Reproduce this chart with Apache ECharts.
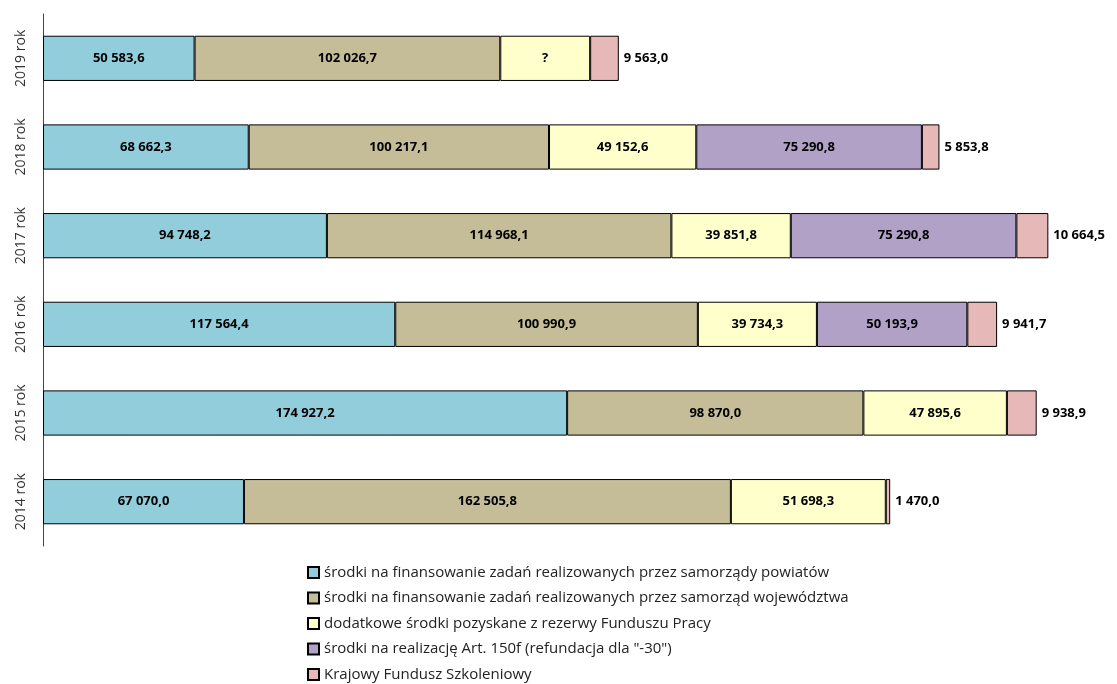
<!DOCTYPE html>
<html>
<head>
<meta charset="utf-8">
<script src="https://cdn.jsdelivr.net/npm/echarts@6/dist/echarts.min.js"></script>
<style>
  html, body { margin: 0; padding: 0; background: #fff; }
  #chart { width: 1117px; height: 684px; }
</style>
</head>
<body>
<div id="chart"></div>
<script>
// kategorie od dołu do góry
var years = ['2014 rok', '2015 rok', '2016 rok', '2017 rok', '2018 rok', '2019 rok'];

var powiaty = [67070.0, 174927.2, 117564.4, 94748.2, 68662.3, 50583.6];
var wojewodztwa = [162505.8, 98870.0, 100990.9, 114968.1, 100217.1, 102026.7];
// 2019: wartość nieznana na wykresie ("?"), szerokość
var rezerwa = [51698.3, 47895.6, 39734.3, 39851.8, 49152.6, 30000];
var rezerwaLabels = [null, null, null, null, null, '?'];
var art150f = [null, null, 50193.9, 75290.8, 75290.8, null];
var kfs = [1470.0, 9938.9, 9941.7, 10664.5, 5853.8, 9563.0];

var names = [
  'środki na finansowanie zadań realizowanych przez samorządy powiatów',
  'środki na finansowanie zadań realizowanych przez samorząd województwa',
  'dodatkowe środki pozyskane z rezerwy Funduszu Pracy',
  'środki na realizację Art. 150f (refundacja dla "-30")',
  'Krajowy Fundusz Szkoleniowy'
];
var colors = ['#92CDDC', '#C4BD97', '#FFFFCC', '#B2A1C7', '#E6B9B8'];

function fmt(v) {
  var s = v.toFixed(1).split('.');
  return s[0].replace(/\B(?=(\d{3})+(?!\d))/g, ' ') + ',' + s[1];
}

function makeSeries(i, data, overrides, pos) {
  return {
    name: names[i],
    type: 'bar',
    stack: 'total',
    barWidth: '51%',
    data: data,
    itemStyle: { color: colors[i], borderColor: '#000', borderWidth: 1 },
    label: {
      show: true,
      position: pos || 'inside',
      distance: 5,
      color: '#000',
      fontFamily: 'Open Sans',
      fontWeight: 'bold',
      fontSize: 13,
      formatter: function (p) {
        if (p.value == null) return '';
        if (overrides && overrides[p.dataIndex]) return overrides[p.dataIndex];
        return fmt(p.value);
      }
    }
  };
}

var chart = echarts.init(document.getElementById('chart'));
chart.setOption({
  animation: false,
  grid: { left: 43, right: 13, top: 14, bottom: 138 },
  legend: {
    orient: 'vertical',
    left: 302,
    top: 560,
    height: 130,
    itemWidth: 11,
    itemHeight: 11,
    itemGap: 10.5,
    icon: 'rect',
    textStyle: { fontFamily: 'Open Sans', fontSize: 15, color: '#222' },
    data: names
  },
  xAxis: {
    type: 'value',
    min: 0,
    max: 354100,
    show: false
  },
  yAxis: {
    type: 'category',
    data: years,
    axisLine: { show: true, lineStyle: { color: '#444', width: 1 } },
    axisTick: { show: false },
    axisLabel: { rotate: 90, margin: 15, fontFamily: 'Open Sans', fontSize: 14, color: '#333' }
  },
  series: [
    makeSeries(0, powiaty),
    makeSeries(1, wojewodztwa),
    makeSeries(2, rezerwa, rezerwaLabels),
    makeSeries(3, art150f),
    makeSeries(4, kfs, null, 'right')
  ]
});
</script>
</body>
</html>
